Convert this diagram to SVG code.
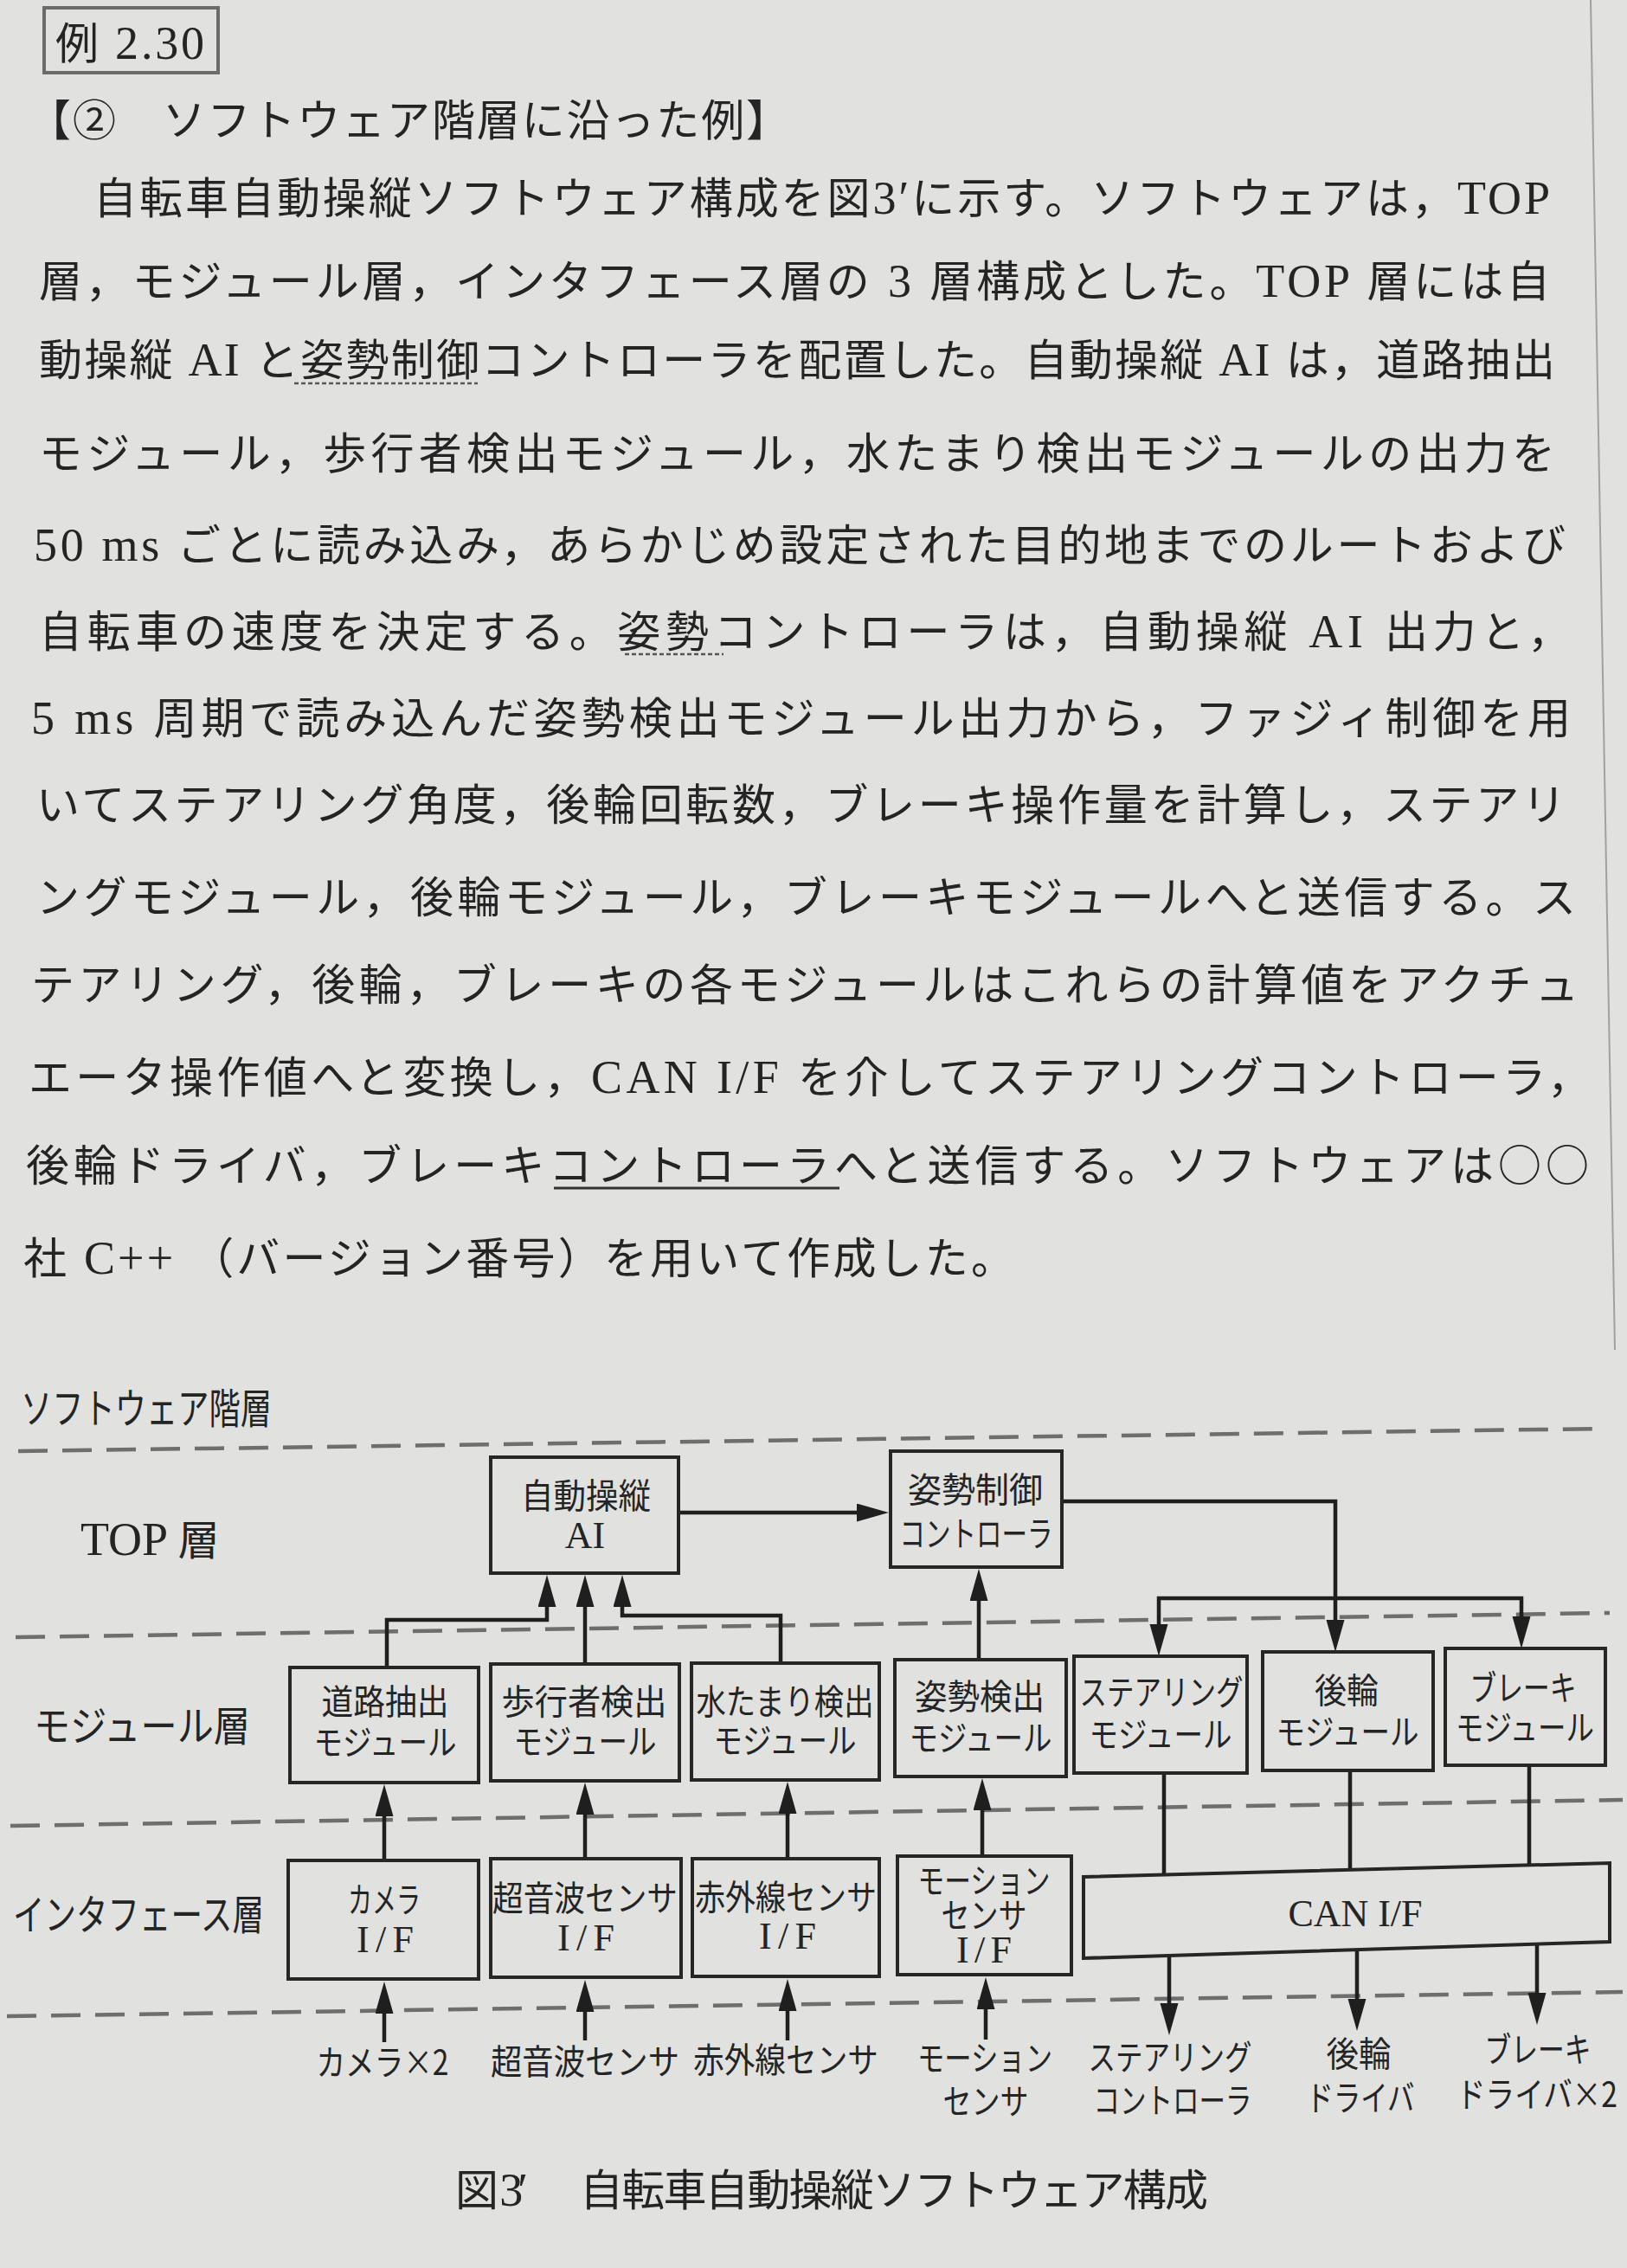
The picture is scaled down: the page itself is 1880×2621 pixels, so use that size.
<svg xmlns="http://www.w3.org/2000/svg" width="1880" height="2621" viewBox="0 0 1880 2621">
<defs>
<style>
.t{font-family:"Noto Sans CJK JP","Noto Sans",sans-serif;fill:#242424}
.b{font-size:50px}
.lat{font-family:"Liberation Serif","Times New Roman",serif;font-size:54px}
.d{font-size:40px}
.dl{font-family:"Liberation Serif","Times New Roman",serif;font-size:44px}
.lay{font-size:48px}
.box{fill:none;stroke:#262626;stroke-width:4}
.conn{fill:none;stroke:#1f1f1f;stroke-width:4.5}
.arr{marker-end:url(#ah)}
.dash{fill:none;stroke:#6e6e6e;stroke-width:4.5;stroke-dasharray:34 17}
.dot{fill:none;stroke:#555;stroke-width:2.5;stroke-dasharray:5 3}
</style>
<marker id="ah" markerUnits="userSpaceOnUse" markerWidth="40" markerHeight="22" viewBox="0 0 40 22" refX="27" refY="10.5" orient="auto">
<path d="M0,0 L37,10.5 L0,21 Z" fill="#1f1f1f"/>
</marker>
</defs>
<rect x="0" y="0" width="1880" height="2621" fill="#e1e1df"/>
<line x1="1838" y1="0" x2="1866" y2="1560" stroke="#a0a09e" stroke-width="2"/>

<g id="heading">
<rect x="51" y="9" width="201" height="75" fill="none" stroke="#6b6b6b" stroke-width="4"/>
<text class="t" x="64" y="68" font-size="50" textLength="172">例<tspan class="lat" font-size="56"> 2.30</tspan></text>
<text class="t b" x="32" y="157" textLength="880">【②　ソフトウェア階層に沿った例】</text>
</g>

<g id="body-text">
<text class="t b" x="108" y="247" textLength="1683">自転車自動操縦ソフトウェア構成を図<tspan class="lat">3′</tspan>に示す。ソフトウェアは，<tspan class="lat">TOP</tspan></text>
<text class="t b" x="45" y="343" textLength="1746">層，モジュール層，インタフェース層の<tspan class="lat"> 3 </tspan>層構成とした。<tspan class="lat">TOP </tspan>層には自</text>
<text class="t b" x="45" y="434" textLength="1752">動操縦<tspan class="lat"> AI </tspan>と姿勢制御コントローラを配置した。自動操縦<tspan class="lat"> AI </tspan>は，道路抽出</text>
<text class="t b" x="45" y="542" textLength="1752">モジュール，歩行者検出モジュール，水たまり検出モジュールの出力を</text>
<text class="t b" x="39" y="648" textLength="1770"><tspan class="lat">50 ms </tspan>ごとに読み込み，あらかじめ設定された目的地までのルートおよび</text>
<text class="t b" x="45" y="748" textLength="1770">自転車の速度を決定する。姿勢コントローラは，自動操縦<tspan class="lat"> AI </tspan>出力と，</text>
<text class="t b" x="36" y="848" textLength="1779"><tspan class="lat">5 ms </tspan>周期で読み込んだ姿勢検出モジュール出力から，ファジィ制御を用</text>
<text class="t b" x="42" y="948" textLength="1767">いてステアリング角度，後輪回転数，ブレーキ操作量を計算し，ステアリ</text>
<text class="t b" x="42" y="1055" textLength="1779">ングモジュール，後輪モジュール，ブレーキモジュールへと送信する。ス</text>
<text class="t b" x="36" y="1156" textLength="1788">テアリング，後輪，ブレーキの各モジュールはこれらの計算値をアクチュ</text>
<text class="t b" x="33" y="1263" textLength="1805">エータ操作値へと変換し，<tspan class="lat">CAN I/F </tspan>を介してステアリングコントローラ，</text>
<text class="t b" x="30" y="1365" textLength="1806">後輪ドライバ，ブレーキコントローラへと送信する。ソフトウェアは○○</text>
<text class="t b" x="27" y="1472" textLength="1145">社<tspan class="lat"> C++ </tspan>（バージョン番号）を用いて作成した。</text>
<line class="dot" x1="340" y1="443" x2="552" y2="443"/>
<line class="dot" x1="722" y1="756" x2="836" y2="756"/>
<line x1="640" y1="1373" x2="970" y2="1373" stroke="#333" stroke-width="3"/>
</g>

<g id="layers">
<line class="dash" x1="21" y1="1677" x2="1851" y2="1651"/>
<line class="dash" x1="18" y1="1892" x2="1860" y2="1864"/>
<line class="dash" x1="12" y1="2110" x2="1875" y2="2080"/>
<line class="dash" x1="8" y1="2330" x2="1875" y2="2302"/>
<text class="t lay" x="24" y="1645" font-size="50" textLength="290" lengthAdjust="spacingAndGlyphs">ソフトウェア階層</text>
<text class="t lay" x="93" y="1797"><tspan class="lat" font-size="52">TOP </tspan>層</text>
<text class="t lay" x="39" y="2012" textLength="250" lengthAdjust="spacingAndGlyphs">モジュール層</text>
<text class="t lay" x="15" y="2230" textLength="290" lengthAdjust="spacingAndGlyphs">インタフェース層</text>
</g>

<g id="connectors">
<path class="conn arr" d="M784,1748 H1017"/>
<path class="conn arr" d="M447,1927 V1872 H632 V1830"/>
<path class="conn arr" d="M676,1923 V1830"/>
<path class="conn arr" d="M902,1922 V1867 H719 V1830"/>
<path class="conn arr" d="M1131,1918 V1823"/>
<path class="conn arr" d="M1227,1735 H1543 V1899"/>
<path class="conn arr" d="M1543,1847 H1339 V1904"/>
<path class="conn arr" d="M1543,1847 H1758 V1895"/>
<path class="conn arr" d="M444,2150 V2072"/>
<path class="conn arr" d="M676,2148 V2070"/>
<path class="conn arr" d="M910,2148 V2069"/>
<path class="conn arr" d="M1135,2145 V2065"/>
<path class="conn" d="M1345,2049 V2167"/>
<path class="conn" d="M1560,2046 V2161"/>
<path class="conn" d="M1767,2040 V2156"/>
<path class="conn arr" d="M1351,2260 V2342"/>
<path class="conn arr" d="M1568,2253 V2337"/>
<path class="conn arr" d="M1776,2247 V2330"/>
<path class="conn arr" d="M444,2360 V2300"/>
<path class="conn arr" d="M676,2358 V2298"/>
<path class="conn arr" d="M910,2358 V2297"/>
<path class="conn arr" d="M1139,2357 V2295"/>
</g>

<g id="node-ai">
<rect class="box" x="567" y="1684" width="217" height="134"/>
<text class="t d" x="677" y="1743" text-anchor="middle" textLength="150" lengthAdjust="spacingAndGlyphs">自動操縦</text>
<text class="t dl" x="676" y="1789" text-anchor="middle">AI</text>
</g>
<g id="node-attitude-controller">
<rect class="box" x="1029" y="1677" width="198" height="134"/>
<text class="t d" x="1127" y="1736" text-anchor="middle" textLength="156" lengthAdjust="spacingAndGlyphs">姿勢制御</text>
<text class="t d" x="1128" y="1787" text-anchor="middle" textLength="177" lengthAdjust="spacingAndGlyphs">コントローラ</text>
</g>

<g id="node-road">
<rect class="box" x="335" y="1927" width="218" height="133"/>
<text class="t d" x="445" y="1981" text-anchor="middle" textLength="147" lengthAdjust="spacingAndGlyphs">道路抽出</text>
<text class="t d" x="445" y="2028" text-anchor="middle" textLength="165" lengthAdjust="spacingAndGlyphs">モジュール</text>
</g>
<g id="node-pedestrian">
<rect class="box" x="567" y="1923" width="218" height="135"/>
<text class="t d" x="675" y="1981" text-anchor="middle" textLength="191" lengthAdjust="spacingAndGlyphs">歩行者検出</text>
<text class="t d" x="676" y="2027" text-anchor="middle" textLength="165" lengthAdjust="spacingAndGlyphs">モジュール</text>
</g>
<g id="node-puddle">
<rect class="box" x="799" y="1922" width="217" height="135"/>
<text class="t d" x="907" y="1981" text-anchor="middle" textLength="205" lengthAdjust="spacingAndGlyphs">水たまり検出</text>
<text class="t d" x="907" y="2026" text-anchor="middle" textLength="165" lengthAdjust="spacingAndGlyphs">モジュール</text>
</g>
<g id="node-attitude-detect">
<rect class="box" x="1034" y="1918" width="198" height="135"/>
<text class="t d" x="1132" y="1975" text-anchor="middle" textLength="150" lengthAdjust="spacingAndGlyphs">姿勢検出</text>
<text class="t d" x="1133" y="2023" text-anchor="middle" textLength="165" lengthAdjust="spacingAndGlyphs">モジュール</text>
</g>
<g id="node-steering">
<rect class="box" x="1241" y="1914" width="200" height="135"/>
<text class="t d" x="1342" y="1970" text-anchor="middle" textLength="189" lengthAdjust="spacingAndGlyphs">ステアリング</text>
<text class="t d" x="1341" y="2019" text-anchor="middle" textLength="165" lengthAdjust="spacingAndGlyphs">モジュール</text>
</g>
<g id="node-rear">
<rect class="box" x="1459" y="1909" width="197" height="137"/>
<text class="t d" x="1556" y="1968" text-anchor="middle" textLength="74" lengthAdjust="spacingAndGlyphs">後輪</text>
<text class="t d" x="1557" y="2016" text-anchor="middle" textLength="165" lengthAdjust="spacingAndGlyphs">モジュール</text>
</g>
<g id="node-brake">
<rect class="box" x="1670" y="1905" width="185" height="135"/>
<text class="t d" x="1760" y="1965" text-anchor="middle" textLength="123" lengthAdjust="spacingAndGlyphs">ブレーキ</text>
<text class="t d" x="1762" y="2011" text-anchor="middle" textLength="160" lengthAdjust="spacingAndGlyphs">モジュール</text>
</g>

<g id="node-camera-if">
<rect class="box" x="333" y="2150" width="220" height="137"/>
<text class="t d" x="444" y="2210" text-anchor="middle" textLength="84" lengthAdjust="spacingAndGlyphs">カメラ</text>
<text class="t dl" x="445" y="2256" text-anchor="middle" textLength="66">I/F</text>
</g>
<g id="node-ultrasonic-if">
<rect class="box" x="567" y="2148" width="220" height="137"/>
<text class="t d" x="676" y="2208" text-anchor="middle" textLength="214" lengthAdjust="spacingAndGlyphs">超音波センサ</text>
<text class="t dl" x="677" y="2254" text-anchor="middle" textLength="66">I/F</text>
</g>
<g id="node-infrared-if">
<rect class="box" x="800" y="2148" width="216" height="136"/>
<text class="t d" x="908" y="2207" text-anchor="middle" textLength="210" lengthAdjust="spacingAndGlyphs">赤外線センサ</text>
<text class="t dl" x="910" y="2252" text-anchor="middle" textLength="66">I/F</text>
</g>
<g id="node-motion-if">
<rect class="box" x="1037" y="2145" width="201" height="137"/>
<text class="t d" x="1137" y="2188" font-size="37" text-anchor="middle" textLength="153" lengthAdjust="spacingAndGlyphs">モーション</text>
<text class="t d" x="1137" y="2228" font-size="37" text-anchor="middle" textLength="99" lengthAdjust="spacingAndGlyphs">センサ</text>
<text class="t dl" x="1137" y="2268" font-size="41" text-anchor="middle" textLength="64">I/F</text>
</g>
<g id="node-can-if">
<polygon class="box" points="1252,2169 1860,2153 1860,2244 1252,2263"/>
<text class="t dl" x="1566" y="2226" text-anchor="middle" textLength="155">CAN I/F</text>
</g>

<g id="ext-camera"><text class="t d" x="442" y="2398" text-anchor="middle" textLength="153" lengthAdjust="spacingAndGlyphs">カメラ×2</text></g>
<g id="ext-ultrasonic"><text class="t d" x="676" y="2397" text-anchor="middle" textLength="218" lengthAdjust="spacingAndGlyphs">超音波センサ</text></g>
<g id="ext-infrared"><text class="t d" x="908" y="2395" text-anchor="middle" textLength="214" lengthAdjust="spacingAndGlyphs">赤外線センサ</text></g>
<g id="ext-motion">
<text class="t d" x="1138" y="2393" text-anchor="middle" textLength="156" lengthAdjust="spacingAndGlyphs">モーション</text>
<text class="t d" x="1139" y="2443" text-anchor="middle" textLength="99" lengthAdjust="spacingAndGlyphs">センサ</text>
</g>
<g id="ext-steering">
<text class="t d" x="1352" y="2392" text-anchor="middle" textLength="189" lengthAdjust="spacingAndGlyphs">ステアリング</text>
<text class="t d" x="1355" y="2442" text-anchor="middle" textLength="183" lengthAdjust="spacingAndGlyphs">コントローラ</text>
</g>
<g id="ext-rear">
<text class="t d" x="1570" y="2388" text-anchor="middle" textLength="75" lengthAdjust="spacingAndGlyphs">後輪</text>
<text class="t d" x="1572" y="2439" text-anchor="middle" textLength="125" lengthAdjust="spacingAndGlyphs">ドライバ</text>
</g>
<g id="ext-brake">
<text class="t d" x="1777" y="2383" text-anchor="middle" textLength="123" lengthAdjust="spacingAndGlyphs">ブレーキ</text>
<text class="t d" x="1776" y="2435" text-anchor="middle" textLength="186" lengthAdjust="spacingAndGlyphs">ドライバ×2</text>
</g>

<g id="caption">
<text class="t b" x="526" y="2549" textLength="84">図<tspan class="lat"> 3′</tspan></text>
<text class="t b" x="670" y="2549" textLength="726">自転車自動操縦ソフトウェア構成</text>
</g>
</svg>
